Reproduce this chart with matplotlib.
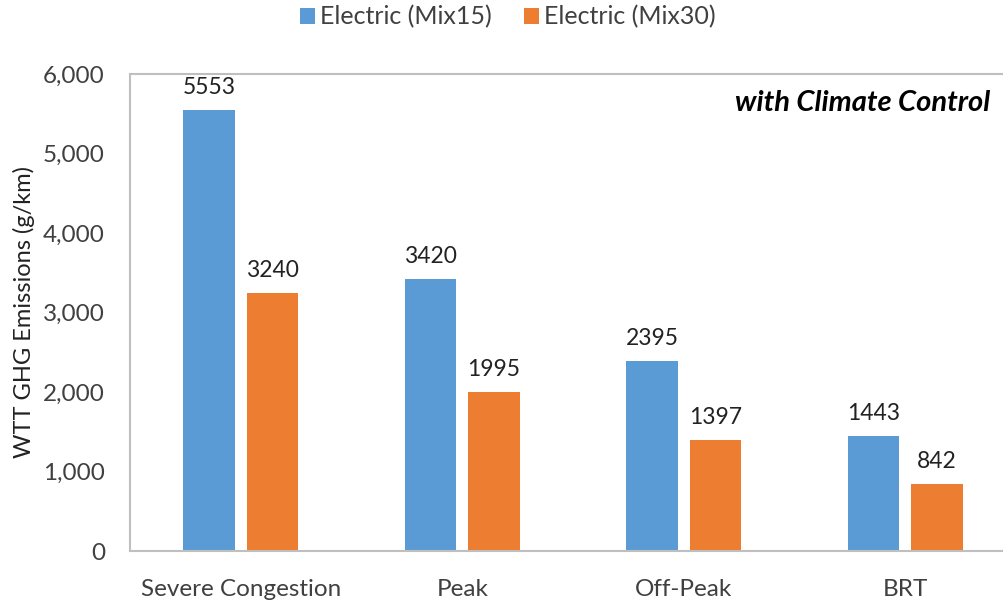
import matplotlib.pyplot as plt
import numpy as np

categories = ['Severe Congestion', 'Peak', 'Off-Peak', 'BRT']
mix15 = [5553, 3420, 2395, 1443]
mix30 = [3240, 1995, 1397, 842]
series_names = ['Electric (Mix15)', 'Electric (Mix30)']

blue = '#5B9BD5'
orange = '#ED7D31'
grey_text = '#404040'

plt.rcParams['font.family'] = ['Lato', 'DejaVu Sans']

fig = plt.figure(figsize=(10.04, 6.06), dpi=100)
# axes runs past the right edge, like the original export
ax = fig.add_axes([130 / 1004, 55 / 606, 886 / 1004, 477 / 606])

x = np.arange(len(categories))
w = 0.231
off = 0.143
b1 = ax.bar(x - off, mix15, w, color=blue, label=series_names[0])
b2 = ax.bar(x + off, mix30, w, color=orange, label=series_names[1])

for bars, vals in ((b1, mix15), (b2, mix30)):
    for b, v in zip(bars, vals):
        ax.text(b.get_x() + b.get_width() / 2, v + 150, str(v),
                ha='center', va='bottom', fontsize=16.5, color='#222222')

ax.set_xlim(-0.5, 3.5)
ax.set_ylim(0, 6000)
ax.set_yticks(range(0, 6001, 1000))
ax.set_yticklabels([f'{t:,}' for t in range(0, 6001, 1000)])
ax.set_xticks(x)
ax.set_xticklabels(categories)
ax.tick_params(axis='both', length=0, labelsize=17.5, colors=grey_text)
ax.tick_params(axis='y', pad=18)
ax.tick_params(axis='x', pad=20)

for s in ('top', 'left', 'bottom'):
    ax.spines[s].set_color('#BFBFBF')
    ax.spines[s].set_linewidth(1.5)
ax.spines['right'].set_visible(False)

ax.set_ylabel('WTT GHG Emissions (g/km)', fontsize=17, color='#222222', labelpad=6)

ax.text(990 / 1004, 1 - 103 / 606, 'with Climate Control', transform=fig.transFigure,
        ha='right', va='center', fontsize=21, fontweight='bold', fontstyle='italic')

fig.legend(loc='center', bbox_to_anchor=(508 / 1004, 1 - 17 / 606), ncol=2,
           frameon=False, fontsize=18, handlelength=0.6, handleheight=0.6,
           handletextpad=0.2, columnspacing=1.3, labelcolor=grey_text)

fig.savefig('out.png', dpi=100)
